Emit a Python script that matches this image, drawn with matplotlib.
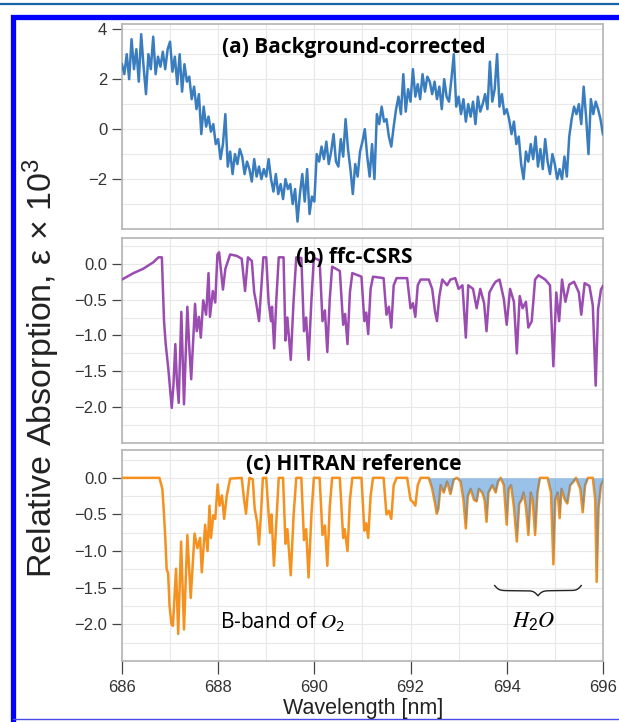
import numpy as np
import matplotlib
matplotlib.use("Agg")
import matplotlib.pyplot as plt
from matplotlib.lines import Line2D

plt.rcParams["font.family"] = ["Liberation Sans", "DejaVu Sans"]
plt.rcParams["mathtext.default"] = "regular"

BLUE, PURPLE, ORANGE = "#3a7dbf", "#9a4cb0", "#f5911e"
H2O_FILL = "#3d8ad6"
TITLE_FONT = ["Open Sans", "DejaVu Sans"]

# ---- (a) background-corrected spectrum, sampled every 0.05 nm ----
wl_a = np.linspace(686.0, 696.0, 201)
eps_a = [
    2.6, 2.2, 3.0, 2.0, 3.6, 2.4, 3.2, 1.9, 3.8, 2.5,
    1.4, 3.0, 2.4, 3.7, 2.2, 2.9, 2.5, 3.1, 2.4, 3.2,
    3.5, 2.3, 2.9, 1.8, 3.0, 1.5, 2.6, 1.9, 2.1, 1.2,
    1.7, 0.8, 1.4, -0.2, 0.9, 0.1, 0.5, -0.1, 0.2, -0.6,
    -0.4, -1.2, -0.6, 0.6, -1.5, -0.9, -1.8, -1.0, -1.4, -0.8,
    -1.1, -1.8, -1.3, -1.6, -2.1, -1.2, -1.9, -1.5, -2.0, -1.6,
    -1.9, -1.2, -2.0, -2.5, -1.8, -2.6, -2.2, -2.8, -2.0, -2.4,
    -2.2, -3.0, -2.4, -3.7, -2.6, -1.8, -2.9, -1.6, -3.4, -2.7,
    -2.9, -1.0, -1.3, -0.7, -1.2, -0.5, -1.4, -0.9, -0.2, -1.3,
    -1.5, -0.4, -1.1, 0.4, -0.8, -1.6, -2.6, -1.4, -1.9, -0.9,
    -0.5, 0.0, -1.1, -1.9, -0.6, -2.0, 0.6, 0.2, 0.9, 0.3,
    0.4, -0.3, -0.7, 0.1, 0.8, 1.3, 0.6, 2.2, 0.7, 1.6,
    1.1, 2.4, 1.3, 1.8, 1.2, 2.2, 1.5, 2.1, 1.9, 1.4,
    1.9, 1.2, 1.7, 0.8, 2.0, 1.3, 1.1, 2.0, 3.0, 0.9,
    1.3, 0.6, 1.2, 0.3, 1.0, 0.5, 1.1, 0.2, 1.3, 0.7,
    1.0, 1.4, 0.8, 2.7, 1.1, 1.6, 3.0, 0.9, 1.4, 0.6,
    0.8, 0.4, -0.2, 0.3, -0.6, -0.3, -1.4, -2.0, -0.9, -1.3,
    -0.6, -1.2, -0.3, -1.5, -0.8, -1.6, -0.4, -1.3, -1.8, -1.0,
    -1.4, -2.0, -1.6, -2.0, -1.1, -1.9, -0.3, 0.4, 0.9, 0.6,
    1.0, 0.2, 1.7, 0.5, -1.0, 1.2, 0.6, 1.1, 0.8, 0.4,
    -0.2,
]

# ---- (b) ffc-CSRS measurement ----
wl_b = [
    686.00, 686.24, 686.44, 686.65, 686.76, 686.83, 686.875, 686.91, 686.965, 687.035,
    687.07, 687.11, 687.14, 687.18, 687.235, 687.29, 687.36, 687.40, 687.44, 687.52,
    687.555, 687.60, 687.64, 687.69, 687.75, 687.80, 687.83, 687.89, 687.94, 687.985,
    688.02, 688.10, 688.15, 688.25, 688.39, 688.49, 688.56, 688.62, 688.70, 688.75,
    688.79, 688.85, 688.90, 688.94, 689.00, 689.05, 689.10, 689.12, 689.165, 689.21,
    689.26, 689.36, 689.40, 689.44, 689.51, 689.57, 689.625, 689.73, 689.785, 689.83,
    689.88, 689.94, 689.99, 690.11, 690.17, 690.22, 690.27, 690.32, 690.37, 690.53,
    690.60, 690.64, 690.69, 690.74, 690.79, 690.98, 691.04, 691.08, 691.12, 691.17,
    691.22, 691.44, 691.50, 691.55, 691.60, 691.65, 691.71, 691.93, 692.00, 692.05,
    692.10, 692.15, 692.21, 692.38, 692.45, 692.51, 692.55, 692.60, 692.66, 692.76,
    692.83, 692.93, 693.00, 693.08, 693.15, 693.20, 693.30, 693.375, 693.45, 693.53,
    693.58, 693.64, 693.72, 693.77, 693.85, 693.94, 694.00, 694.07, 694.15, 694.21,
    694.27, 694.33, 694.40, 694.45, 694.52, 694.59, 694.66, 694.80, 694.90, 694.97,
    695.03, 695.09, 695.15, 695.22, 695.30, 695.40, 695.50, 695.55, 695.62, 695.72,
    695.79, 695.85, 695.90, 695.96, 696.00,
]
eps_b = [
    -0.22, -0.13, -0.07, 0.02, 0.09, 0.09, -0.80, -1.12, -1.47, -2.01,
    -1.70, -1.12, -1.60, -1.94, -0.67, -1.96, -0.60, -1.16, -1.61, -0.56,
    -0.94, -0.74, -1.03, -0.51, -0.71, -0.13, -0.74, -0.38, -0.54, 0.13,
    0.16, -0.36, -0.07, 0.13, 0.11, 0.07, -0.38, 0.09, 0.04, -0.40,
    -0.54, -0.80, -0.30, 0.09, 0.09, -0.54, -0.80, -0.60, -1.18, -0.50,
    0.09, 0.09, -1.07, -0.75, -1.34, -0.50, 0.09, 0.08, -0.94, -0.75,
    -1.34, -0.50, 0.08, 0.05, -0.80, -0.65, -1.23, -0.50, -0.04, -0.10,
    -0.85, -0.70, -1.12, -0.40, -0.13, -0.18, -0.80, -0.68, -0.98, -0.35,
    -0.18, -0.20, -0.71, -0.60, -0.89, -0.30, -0.20, -0.20, -0.62, -0.55,
    -0.74, -0.30, -0.22, -0.22, -0.35, -0.67, -0.80, -0.45, -0.22, -0.30,
    -0.22, -0.20, -0.35, -0.30, -1.03, -0.30, -0.35, -0.62, -0.35, -0.55,
    -0.94, -0.40, -0.30, -0.25, -0.22, -0.49, -0.85, -0.35, -0.53, -1.25,
    -0.45, -0.62, -0.53, -0.89, -0.80, -0.22, -0.16, -0.22, -0.30, -1.43,
    -0.40, -0.80, -0.22, -0.53, -0.29, -0.25, -0.40, -0.71, -0.27, -0.31,
    -0.58, -1.70, -0.63, -0.36, -0.31,
]

# ---- (c) HITRAN reference ----
wl_c = [
    686.00, 686.78, 686.84, 686.87, 686.90, 686.93, 686.96, 686.99, 687.03, 687.06,
    687.125, 687.17, 687.23, 687.29, 687.36, 687.43, 687.51, 687.57, 687.625, 687.66,
    687.73, 687.78, 687.82, 687.85, 687.90, 687.94, 687.99, 688.03, 688.08, 688.125,
    688.18, 688.25, 688.49, 688.54, 688.58, 688.61, 688.65, 688.72, 688.76, 688.81,
    688.85, 688.89, 688.93, 689.00, 689.05, 689.08, 689.11, 689.16, 689.21, 689.26,
    689.35, 689.40, 689.44, 689.51, 689.57, 689.625, 689.73, 689.785, 689.83, 689.88,
    689.94, 689.99, 690.11, 690.17, 690.22, 690.27, 690.32, 690.37, 690.53, 690.60,
    690.63, 690.69, 690.74, 690.79, 690.98, 691.04, 691.08, 691.12, 691.17, 691.22,
    691.44, 691.50, 691.55, 691.60, 691.65, 691.71, 691.93, 692.00, 692.05, 692.10,
    692.15, 692.21, 692.38, 692.45, 692.51, 692.545, 692.58, 692.625, 692.69, 692.76,
    692.83, 692.90, 692.97, 693.04, 693.10, 693.15, 693.19, 693.25, 693.32, 693.375,
    693.42, 693.49, 693.54, 693.58, 693.62, 693.70, 693.77, 693.82, 693.875, 693.94,
    694.00, 694.04, 694.09, 694.15, 694.21, 694.26, 694.31, 694.35, 694.40, 694.45,
    694.50, 694.54, 694.59, 694.64, 694.69, 694.85, 694.92, 694.97, 695.01, 695.06,
    695.10, 695.14, 695.21, 695.26, 695.32, 695.39, 695.44, 695.53, 695.58, 695.63,
    695.69, 695.79, 695.84, 695.87, 695.91, 695.96, 696.00,
]
eps_c = [
    0.00, 0.00, -0.15, -0.45, -0.80, -1.25, -1.30, -1.75, -2.00, -2.02,
    -1.24, -2.13, -0.87, -2.07, -0.78, -1.64, -0.76, -0.96, -0.82, -1.29,
    -0.64, -1.00, -0.38, -0.82, -0.51, -0.56, -0.09, -0.38, -0.24, -0.56,
    -0.24, -0.01, 0.00, -0.30, -0.49, -0.25, 0.00, -0.02, -0.42, -0.60,
    -0.91, -0.50, 0.00, 0.00, -0.50, -0.75, -0.50, -1.20, -0.60, 0.00,
    0.00, -0.90, -0.70, -1.33, -0.50, 0.00, 0.00, -0.85, -0.70, -1.36,
    -0.50, 0.00, 0.00, -0.78, -0.65, -1.20, -0.40, 0.00, 0.00, -0.82,
    -0.70, -1.00, -0.30, 0.00, 0.00, -0.72, -0.62, -0.82, -0.25, 0.00,
    0.00, -0.50, -0.45, -0.56, -0.10, 0.00, 0.00, -0.30, -0.33, -0.38,
    -0.10, 0.00, 0.00, -0.15, -0.35, -0.49, -0.42, -0.10, -0.20, -0.05,
    -0.22, -0.02, 0.00, -0.05, -0.30, -0.69, -0.25, -0.15, -0.30, -0.32,
    -0.15, -0.20, -0.30, -0.60, -0.20, -0.10, -0.20, -0.05, 0.00, -0.10,
    -0.64, -0.15, -0.10, -0.40, -0.87, -0.35, -0.30, -0.20, -0.40, -0.78,
    -0.20, -0.30, -0.78, -0.20, 0.00, 0.00, -0.20, -1.18, -0.30, -0.20,
    -0.55, -0.15, -0.30, -0.35, -0.10, -0.05, 0.00, -0.15, -0.47, -0.10,
    0.00, 0.00, -0.30, -1.42, -0.40, -0.10, -0.05,
]
# water lines start here; below this the reference is pure O2
H2O_START = 692.38

XTICKS = [686, 688, 690, 692, 694, 696]

fig = plt.figure(figsize=(6.19, 7.22), dpi=100)
ax_a = fig.add_axes([0.197, 0.6828, 0.777, 0.2840])
ax_b = fig.add_axes([0.197, 0.3864, 0.777, 0.2840])
ax_c = fig.add_axes([0.197, 0.0845, 0.777, 0.2922])


def style_panel(ax, yticks, ylim, ymin_step, labels):
    ax.set_xlim(686, 696)
    ax.set_ylim(*ylim)
    ax.set_xticks(XTICKS)
    ax.set_xticks(np.arange(686, 697, 1), minor=True)
    ax.set_yticks(yticks)
    ax.set_yticklabels(labels)
    ax.set_yticks(np.arange(ylim[0] - ylim[0] % ymin_step, ylim[1], ymin_step), minor=True)
    ax.grid(True, which="both", color="#e8e8e8", lw=0.8, zorder=0)
    ax.set_axisbelow(True)
    for s in ax.spines.values():
        s.set_color("#b4b4b4")
        s.set_linewidth(1.2)
    ax.tick_params(axis="y", which="major", direction="out", length=7.5, width=0.9,
                   color="#444444", labelsize=12, labelcolor="#333333", pad=3)
    ax.tick_params(axis="y", which="minor", length=0)
    ax.tick_params(axis="x", which="both", length=0, labelbottom=False)


def panel_title(ax, text, y):
    ax.text(0.482, y, text, transform=ax.transAxes, ha="center", va="center",
            fontsize=15, fontweight="bold", family=TITLE_FONT, zorder=5)


ax_a.plot(wl_a, eps_a, color=BLUE, lw=1.8, zorder=3)
style_panel(ax_a, [4, 2, 0, -2], (-3.97, 4.21), 1.0, ["4", "2", "0", "\u22122"])
panel_title(ax_a, "(a) Background-corrected", 0.885)

ylab = ["0.0", "\u22120.5", "\u22121.0", "\u22121.5", "\u22122.0"]
ax_b.plot(wl_b, eps_b, color=PURPLE, lw=1.8, zorder=3)
style_panel(ax_b, [0, -0.5, -1.0, -1.5, -2.0], (-2.38, 0.36), 0.25, ylab)
panel_title(ax_b, "(b) ffc-CSRS", 0.905)

wl_c_arr = np.array(wl_c)
eps_c_arr = np.array(eps_c)
ax_c.plot(wl_c_arr, eps_c_arr, color=ORANGE, lw=1.8, zorder=3)
water = wl_c_arr >= H2O_START
ax_c.fill_between(wl_c_arr[water], eps_c_arr[water], 0, color=H2O_FILL,
                  alpha=0.52, lw=0, zorder=4)
style_panel(ax_c, [0, -0.5, -1.0, -1.5, -2.0], (-2.44, 0.38), 0.25, ylab)
ax_c.tick_params(axis="x", which="major", direction="out", length=9, width=0.9,
                 color="#444444", labelbottom=True, labelsize=12, labelcolor="#333333", pad=5)
ax_c.set_xticklabels([str(t) for t in XTICKS])
panel_title(ax_c, "(c) HITRAN reference", 0.93)
ax_c.text(0.335, 0.185, r"B-band of $\mathit{O}_2$", transform=ax_c.transAxes,
          ha="center", va="center", fontsize=15, family=TITLE_FONT,
          math_fontfamily="stix")
ax_c.text(0.855, 0.185, r"$\mathit{H}_2\mathit{O}$", transform=ax_c.transAxes,
          ha="center", va="center", fontsize=16, math_fontfamily="stix")


def curly_brace(ax, x0, x1, y, depth):
    # horizontal brace whose tip points down
    n = 201
    xs = np.linspace(x0, x1, n)
    half = xs[: n // 2 + 1]
    beta = 40.0 / (x1 - x0)
    shape = (1 / (1 + np.exp(-beta * (half - half[0])))
             + 1 / (1 + np.exp(-beta * (half - half[-1]))))
    ys = np.concatenate((shape, shape[-2::-1]))
    ax.plot(xs, y - depth * (ys - ys[0]) / (ys.max() - ys[0]), color="#222222", lw=1.0)


curly_brace(ax_c, 693.75, 695.55, -1.47, 0.14)

fig.text(0.066, 0.49, "Relative Absorption, \u03b5 \u00d7 10$^3$", rotation=90,
         ha="center", va="center", fontsize=24.5, color="#222222")
fig.text(0.587, 0.019, "Wavelength [nm]", ha="center", va="center",
         fontsize=15.5, color="#222222")

# page frame
fig.add_artist(Line2D([0, 1], [0.9945, 0.9945], transform=fig.transFigure,
                      color="#1763a6", lw=1.6))
fig.add_artist(Line2D([0.0218, 0.0218, 1.0], [0.003, 0.9768, 0.9768],
                      transform=fig.transFigure, color="#0000ff", lw=3.8,
                      solid_joinstyle="miter"))
fig.add_artist(Line2D([0.0218, 1.0], [0.0035, 0.0035], transform=fig.transFigure,
                      color="#4a4ae6", lw=1.0))

fig.savefig("out.png", dpi=100)
